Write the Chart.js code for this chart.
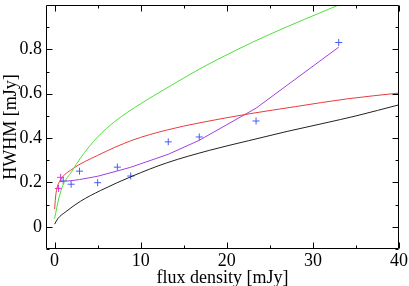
<!DOCTYPE html>
<html>
<head>
<meta charset="utf-8">
<script src="https://cdn.jsdelivr.net/npm/chart.js@4"></script>
<style>
html,body{margin:0;padding:0;background:#fff;}
#wrap{width:409px;height:286px;}
</style>
</head>
<body>
<div id="wrap"><canvas id="c" width="409" height="286"></canvas></div>
<script>
// ---- data ----
const xTicks = [0, 10, 20, 30, 40];
const yTicks = [0, 0.2, 0.4, 0.6, 0.8];
const xMinorTicks = [5, 15, 25, 35];
const yMinorTicks = [-0.1, 0.1, 0.3, 0.5, 0.7, 0.9];

const greenX = [0, 0.5, 1, 2, 3, 5, 7, 10, 13, 17, 21, 25, 29, 33];
const greenY = [0.037, 0.13, 0.19, 0.25, 0.31, 0.405, 0.475, 0.555, 0.625, 0.715, 0.795, 0.868, 0.935, 1.0];

const redX = [0, 0.1, 0.25, 0.75, 2, 5, 9, 13, 17, 22.7, 28, 34, 40];
const redY = [0.08, 0.13, 0.17, 0.215, 0.259, 0.322, 0.39, 0.436, 0.47, 0.51, 0.542, 0.577, 0.603];

const blackX = [0, 0.38, 1.3, 3, 5.3, 9, 13, 18, 22.5, 27, 31.4, 35, 40];
const blackY = [0.012, 0.037, 0.068, 0.115, 0.163, 0.228, 0.288, 0.345, 0.388, 0.43, 0.468, 0.5, 0.55];

const purpleX = [0.57, 1.0, 1.9, 2.9, 5.0, 7.3, 8.8, 13.2, 16.8, 23.4, 33.0];
const purpleY = [0.203, 0.205, 0.208, 0.213, 0.228, 0.252, 0.268, 0.327, 0.39, 0.535, 0.81];

const blueX = [1.0, 1.92, 2.89, 5.0, 7.29, 8.84, 13.2, 16.8, 23.4, 33.0];
const blueY = [0.207, 0.192, 0.251, 0.199, 0.269, 0.229, 0.383, 0.405, 0.477, 0.831];

const magentaX = [0.45, 0.7];
const magentaY = [0.173, 0.223];

const toPts = (xs, ys) => xs.map((x, i) => ({x: x, y: ys[i]}));

const FONT = "'Liberation Serif', 'DejaVu Serif', serif";

const frameTicks = {
  id: 'frameTicks',
  afterDatasetsDraw(chart) {
    const ctx = chart.ctx, a = chart.chartArea;
    const xs = chart.scales.x, ys = chart.scales.y;
    ctx.save();
    ctx.strokeStyle = '#000';
    ctx.lineWidth = 1;
    ctx.beginPath();
    const L = Math.round(a.left) + 0.5, R = Math.round(a.right) - 0.5;
    const T = Math.round(a.top) + 0.5, B = Math.round(a.bottom) - 0.5;
    ctx.rect(L, T, R - L, B - T);
    const major = 6, minor = 3;
    const drawX = (vals, len) => vals.forEach(v => {
      const p = Math.round(xs.getPixelForValue(v)) + 0.5;
      ctx.moveTo(p, B); ctx.lineTo(p, B - len);
      ctx.moveTo(p, T); ctx.lineTo(p, T + len);
    });
    const drawY = (vals, len) => vals.forEach(v => {
      const p = Math.round(ys.getPixelForValue(v)) + 0.5;
      ctx.moveTo(L, p); ctx.lineTo(L + len, p);
      ctx.moveTo(R, p); ctx.lineTo(R - len, p);
    });
    drawX(xTicks, major); drawX(xMinorTicks, minor);
    drawY(yTicks, major); drawY(yMinorTicks, minor);
    ctx.stroke();
    ctx.restore();
  }
};

const lineDs = (xs, ys, color, mono) => ({
  data: toPts(xs, ys),
  borderColor: color,
  borderWidth: 1,
  pointRadius: 0,
  fill: false,
  showLine: true,
  tension: mono ? 0.4 : 0,
  cubicInterpolationMode: mono ? 'monotone' : 'default'
});

const markDs = (xs, ys, color) => ({
  data: toPts(xs, ys),
  borderColor: color,
  backgroundColor: color,
  showLine: false,
  pointStyle: 'cross',
  pointRadius: 3.5,
  pointBorderWidth: 1
});

new Chart(document.getElementById('c'), {
  type: 'scatter',
  data: {
    datasets: [
      lineDs(greenX, greenY, '#4ee03a', true),
      lineDs(redX, redY, '#e83c3c', true),
      lineDs(blackX, blackY, '#222222', true),
      lineDs(purpleX, purpleY, '#a040e0', false),
      markDs(blueX, blueY, '#4a5cf0'),
      markDs(magentaX, magentaY, '#e830e8')
    ]
  },
  options: {
    responsive: false,
    animation: false,
    layout: {padding: {top: 2, right: 10, left: 0, bottom: 0}},
    plugins: {legend: {display: false}, tooltip: {enabled: false}},
    scales: {
      x: {
        type: 'linear', min: -1, max: 40,
        afterBuildTicks: s => { s.ticks = xTicks.map(v => ({value: v})); },
        afterFit: s => { s.height = 37; s.paddingLeft = 0; s.paddingRight = 0; },
        grid: {display: false, drawTicks: false},
        border: {display: false},
        ticks: {padding: 1, color: '#000', font: {family: FONT, size: 18}, maxRotation: 0, autoSkip: false},
        title: {display: true, text: 'flux density [mJy]', color: '#000', padding: {top: 0, bottom: 0}, font: {family: FONT, size: 18, lineHeight: 0.9}}
      },
      y: {
        type: 'linear', min: -0.1, max: 1.0,
        afterBuildTicks: s => { s.ticks = yTicks.map(v => ({value: v})); },
        afterFit: s => { s.width = 46; s.paddingTop = 0; s.paddingBottom = 0; },
        grid: {display: false, drawTicks: false},
        border: {display: false},
        ticks: {padding: 4, color: '#000', font: {family: FONT, size: 18}, autoSkip: false,
                callback: v => String(v)},
        title: {display: true, text: 'HWHM [mJy]', color: '#000', padding: {top: 0, bottom: 0}, font: {family: FONT, size: 18}}
      }
    }
  },
  plugins: [frameTicks]
});
</script>
</body>
</html>
